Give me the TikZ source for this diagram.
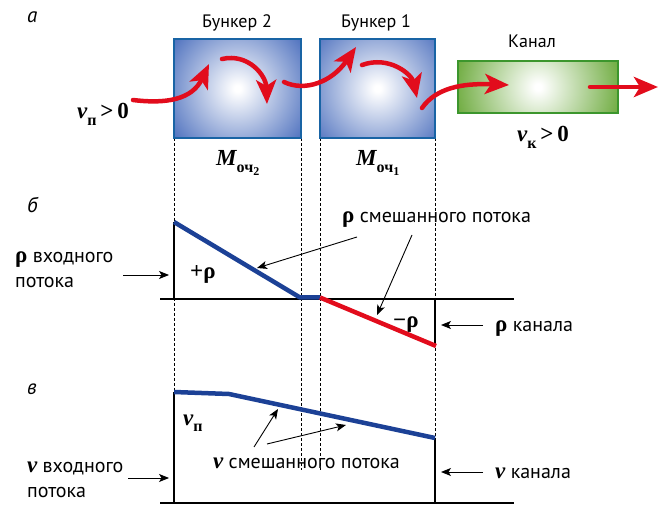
\documentclass[tikz,border=0pt]{standalone}
\usepackage{fontspec}
\setmainfont{PT Sans}
\newfontfamily\serifb{Liberation Serif}
\usetikzlibrary{arrows.meta}

\definecolor{flowred}{RGB}{226,12,28}
\definecolor{boxblue}{RGB}{72,108,188}
\definecolor{boxblueedge}{RGB}{25,100,165}
\definecolor{boxgreen}{RGB}{108,170,60}
\definecolor{boxgreenedge}{RGB}{60,150,45}
\definecolor{lineblue}{RGB}{28,65,150}

\pgfdeclareradialshading{bunkershade}{\pgfpoint{0bp}{0bp}}{color(0bp)=(white); color(1bp)=(white); color(25bp)=(boxblue); color(50bp)=(boxblue)}
\pgfdeclareradialshading{channelshade}{\pgfpoint{0bp}{0bp}}{color(0bp)=(white); color(1bp)=(white); color(25bp)=(boxgreen); color(50bp)=(boxgreen)}

\newcommand{\bsym}[1]{{\serifb\bfseries\itshape #1}}
\newcommand{\bup}[1]{{\serifb\bfseries #1}}
\newcommand{\brho}{{\fontsize{23}{23}\selectfont\serifb\bfseries ρ}}
\newcommand{\bsub}[1]{\raisebox{-0.28em}{\fontsize{16}{16}\selectfont\serifb\bfseries #1}}
\newcommand{\bsubsub}[2]{\raisebox{-0.28em}{\fontsize{16}{16}\selectfont\serifb\bfseries #1\raisebox{-0.22em}{\fontsize{12}{12}\selectfont #2}}}

\tikzset{
  bunker/.style={draw=boxblueedge, line width=2pt, inner sep=0pt,
    path picture={\shade[shading=bunkershade] (path picture bounding box.center) circle (84pt);}},
  channel/.style={draw=boxgreenedge, line width=2pt, inner sep=0pt,
    path picture={\shade[shading=channelshade] (path picture bounding box.center) circle (86pt);}},
  flow/.style={draw=flowred, line width=4.5pt, line cap=round, -{Stealth[length=24pt,width=20pt,inset=6pt]}},
  guide/.style={draw=black, line width=0.8pt, dash pattern=on 3pt off 2pt},
  axisline/.style={draw=black, line width=2.6pt},
  curveblue/.style={draw=lineblue, line width=4.5pt, line join=round},
  curvered/.style={draw=flowred, line width=4.5pt},
  pointer/.style={draw=black, line width=0.9pt, -{Stealth[length=10pt,width=8pt,inset=2.5pt]}},
  txt/.style={font=\fontsize{20}{25}\selectfont, inner sep=0pt, anchor=base west},
  ctxt/.style={font=\fontsize{18}{23}\selectfont, inner sep=0pt, anchor=base},
  plabel/.style={font=\fontsize{21}{21}\selectfont\itshape, inner sep=0pt, anchor=base west},
  mathlbl/.style={font=\fontsize{23}{23}\selectfont, inner sep=0pt, anchor=base west}
}

\begin{document}
\begin{tikzpicture}[x=1pt,y=-1pt]
\useasboundingbox (0,0) rectangle (662,505);

% panel labels
\node[plabel] (la) at (27,23) {а};
\node[plabel] (lb) at (27,213) {б};
\node[plabel] (lv) at (27,395) {в};

% guide lines
\draw[guide] (174,138) -- (174,392);
\draw[guide] (301,138) -- (301,470);
\draw[guide] (320,138) -- (320,470);
\draw[guide] (435,138) -- (435,438);

% boxes
\node[bunker, minimum width=127pt, minimum height=99pt] (b2) at (237.5,88.5) {};
\node[bunker, minimum width=115pt, minimum height=99pt] (b1) at (377.5,88.5) {};
\node[channel, minimum width=160pt, minimum height=52pt] (ch) at (538,87) {};

\node[ctxt] (tb2) at (237,28) {Бункер 2};
\node[ctxt] (tb1) at (376,28) {Бункер 1};
\node[ctxt] (tch) at (532,48) {Канал};

% red flow arrows
\coordinate (f1s) at (133,100);
\coordinate (f1e) at (209,64);
\coordinate (f2s) at (222,59);
\coordinate (f2e) at (267,104);
\coordinate (f3s) at (284,82);
\coordinate (f3e) at (356,47);
\coordinate (f4s) at (362,65);
\coordinate (f4e) at (417,98);
\coordinate (f5s) at (422,108);
\coordinate (f5e) at (509,85);
\coordinate (f6s) at (590,87);
\coordinate (f6e) at (658,87);
\draw[flow] (f1s) .. controls (165,104) and (192,100) .. (f1e);
\draw[flow] (f2s) .. controls (248,53) and (266,75) .. (f2e);
\draw[flow] (f3s) .. controls (305,92) and (332,82) .. (f3e);
\draw[flow] (f4s) .. controls (390,55) and (412,75) .. (f4e);
\draw[flow] (f5s) .. controls (436,88) and (462,83) .. (f5e);
\draw[flow] (f6s) -- (f6e);

\node[mathlbl] (vin) at (77,119) {\bsym{v}\bsub{п}\bup{\,>\,0}};
\node[mathlbl] (vout) at (517,142) {\bsym{v}\bsub{к}\bup{\,>\,0}};
\node[mathlbl] (m2) at (216,166) {\bsym{M}\bsubsub{оч}{2}};
\node[mathlbl] (m1) at (356,166) {\bsym{M}\bsubsub{оч}{1}};

% panel b
\coordinate (a1l) at (160,299);
\coordinate (a1r) at (514,299);
\coordinate (r0) at (174,222);
\coordinate (r0b) at (174,299);
\coordinate (r1) at (300,297.5);
\coordinate (r2) at (320,297.5);
\coordinate (r3) at (436,346);
\coordinate (r3b) at (435,299);
\draw[axisline] (a1l) -- (a1r);
\draw[axisline] (r0) -- (r0b);
\draw[axisline] (r3b) -- (435,346);
\draw[curveblue] (r0) -- (r1) -- (r2);
\draw[curvered] (r2) -- (r3);

\node[mathlbl] (prho) at (190,279) {\bup{+ρ}};
\node[mathlbl] (mrho) at (393,328) {\bup{−ρ}};

\node[txt, align=left] (rin) at (15,288) {\brho{} входного\\потока};
\coordinate (rinA) at (123,275);
\coordinate (rinB) at (169,275);
\draw[pointer] (rinA) -- (rinB);

\node[txt] (rmix) at (342,223) {\brho{} смешанного потока};
\coordinate (rm1s) at (357,237);
\coordinate (rm1e) at (257,268);
\coordinate (rm2s) at (412,235);
\coordinate (rm2e) at (377,315);
\draw[pointer] (rm1s) -- (rm1e);
\draw[pointer] (rm2s) -- (rm2e);

\node[txt] (rch) at (495,332) {\brho{} канала};
\coordinate (rchA) at (483,325);
\coordinate (rchB) at (441,325);
\draw[pointer] (rchA) -- (rchB);

% panel v
\coordinate (a2l) at (160,503);
\coordinate (a2r) at (514,503);
\coordinate (v0) at (174,392);
\coordinate (v0b) at (174,503);
\coordinate (v1) at (229,394);
\coordinate (v2) at (435,438);
\coordinate (v2b) at (435,503);
\draw[axisline] (a2l) -- (a2r);
\draw[axisline] (v0) -- (v0b);
\draw[axisline] (v2) -- (v2b);
\draw[curveblue] (v0) -- (v1) -- (v2);

\node[mathlbl] (vp) at (183,425) {\bsym{v}\bsub{п}};

\node[txt, align=left] (vinl) at (27,497) {{\fontsize{23}{23}\selectfont\bsym{v}} входного\\потока};
\coordinate (vinA) at (128,478);
\coordinate (vinB) at (169,478);
\draw[pointer] (vinA) -- (vinB);

\node[txt] (vmix) at (213,468) {{\fontsize{23}{23}\selectfont\bsym{v}} смешанного потока};
\coordinate (vm1s) at (254,447);
\coordinate (vm1e) at (278,409);
\coordinate (vm2s) at (267,444);
\coordinate (vm2e) at (346,425);
\draw[pointer] (vm1s) -- (vm1e);
\draw[pointer] (vm2s) -- (vm2e);

\node[txt] (vch) at (495,478) {{\fontsize{23}{23}\selectfont\bsym{v}} канала};
\coordinate (vchA) at (483,472);
\coordinate (vchB) at (441,472);
\draw[pointer] (vchA) -- (vchB);
\end{tikzpicture}
\end{document}
